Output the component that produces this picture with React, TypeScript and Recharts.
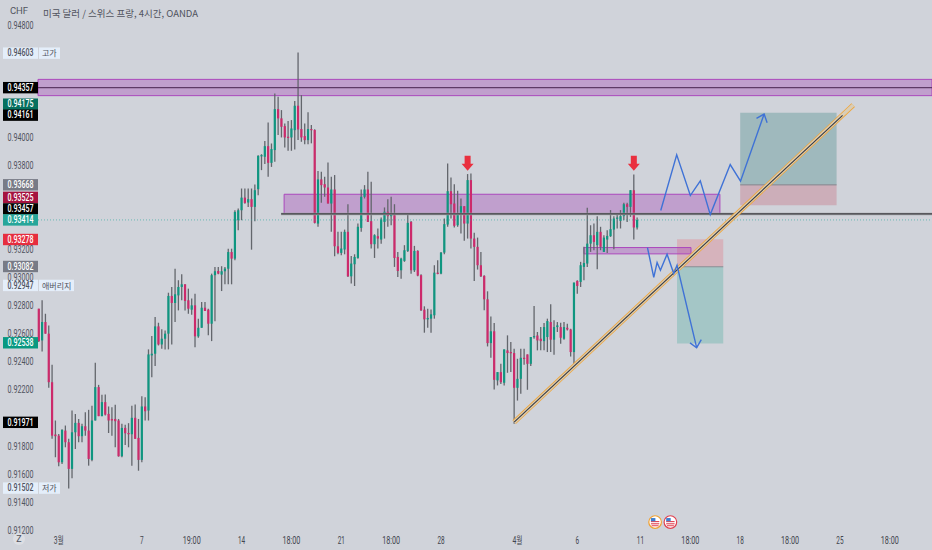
import { ComposedChart, Bar, Line, Scatter, XAxis, YAxis, ReferenceArea, ReferenceLine } from 'recharts';

// open, high, low, close of each 4h bar
type Row = [number, number, number, number];

const barsMarchA: Row[] = [
  [0.92781, 0.92781, 0.92543, 0.9255], [0.92555, 0.92841, 0.92476, 0.92686], [0.92686, 0.92745, 0.92603, 0.92603],
  [0.92603, 0.92662, 0.92217, 0.92257], [0.92257, 0.92381, 0.91853, 0.91876], [0.91884, 0.91984, 0.91722, 0.91872],
  [0.91876, 0.91888, 0.91657, 0.91686], [0.91686, 0.91922, 0.91674, 0.91917], [0.91912, 0.91948, 0.91793, 0.91829],
  [0.91829, 0.91853, 0.915, 0.91639], [0.91639, 0.92055, 0.91572, 0.919], [0.919, 0.92031, 0.91781, 0.91967],
  [0.91967, 0.91995, 0.91829, 0.91872], [0.91872, 0.9196, 0.91829, 0.91943], [0.91943, 0.92043, 0.91876, 0.91912],
  [0.91912, 0.9206, 0.91662, 0.9171], [0.91703, 0.9209, 0.91693, 0.91984], [0.91984, 0.92395, 0.91984, 0.92222],
  [0.92222, 0.92238, 0.92015, 0.92015], [0.92015, 0.92167, 0.92015, 0.92115], [0.92115, 0.9217, 0.9202, 0.92026],
  [0.92031, 0.92084, 0.91895, 0.91984], [0.91995, 0.92079, 0.91876, 0.91984], [0.91995, 0.92096, 0.91793, 0.91979],
  [0.91984, 0.91995, 0.91726, 0.91729], [0.91729, 0.9196, 0.91722, 0.91931], [0.91931, 0.91953, 0.9181, 0.91893],
  [0.91895, 0.91965, 0.91793, 0.91886], [0.91886, 0.9209, 0.91662, 0.92003], [0.92003, 0.92098, 0.91853, 0.91853],
  [0.9186, 0.91995, 0.91626, 0.91703],
];

const barsMarchB: Row[] = [
  [0.91703, 0.92157, 0.91686, 0.92084], [0.92084, 0.9215, 0.91984, 0.9205], [0.92055, 0.92491, 0.91984, 0.92455],
  [0.92448, 0.92586, 0.92293, 0.9246], [0.9246, 0.92722, 0.92372, 0.92655], [0.92655, 0.92681, 0.92519, 0.92526],
  [0.92526, 0.92634, 0.92495, 0.92567], [0.92567, 0.92626, 0.92491, 0.92603], [0.92603, 0.92895, 0.92491, 0.92872],
  [0.92872, 0.92936, 0.92526, 0.92822], [0.92822, 0.93066, 0.92686, 0.92884], [0.92876, 0.92984, 0.92769, 0.92936],
  [0.92936, 0.93026, 0.92841, 0.92955], [0.92955, 0.92955, 0.92769, 0.92836], [0.92841, 0.92924, 0.92745, 0.92781],
  [0.92774, 0.92853, 0.92738, 0.92805], [0.92805, 0.92888, 0.92507, 0.92584], [0.92584, 0.9271, 0.92574, 0.92645],
  [0.92645, 0.92829, 0.92645, 0.92788], [0.92788, 0.92829, 0.92765, 0.92765], [0.92774, 0.92781, 0.92591, 0.92674],
  [0.92674, 0.93031, 0.9255, 0.9302], [0.9302, 0.93079, 0.92691, 0.93048], [0.93050, 0.93079, 0.93026, 0.93031],
  [0.93024, 0.93084, 0.92907, 0.93048], [0.93048, 0.93079, 0.92955, 0.93067], [0.93066, 0.93209, 0.92955, 0.93185],
  [0.93185, 0.93209, 0.92955, 0.93138], [0.93138, 0.93483, 0.93126, 0.93471], [0.93412, 0.93495, 0.9334, 0.93483],
];

const barsMarchC: Row[] = [
  [0.93483, 0.93638, 0.93412, 0.93573], [0.93573, 0.93638, 0.9353, 0.93535], [0.93538, 0.93638, 0.93507, 0.93562],
  [0.93562, 0.93638, 0.93202, 0.93507], [0.93507, 0.93666, 0.93404, 0.93626], [0.93633, 0.93876, 0.9359, 0.93871],
  [0.93869, 0.93883, 0.93769, 0.93876], [0.93864, 0.93976, 0.93812, 0.9394], [0.9394, 0.94109, 0.93721, 0.93821],
  [0.93821, 0.93959, 0.93792, 0.93919], [0.93912, 0.94316, 0.93828, 0.94204], [0.94204, 0.94293, 0.94019, 0.94138],
  [0.94138, 0.94197, 0.94002, 0.94078], [0.94083, 0.94102, 0.9393, 0.94002], [0.94007, 0.94119, 0.93907, 0.94],
  [0.94002, 0.94126, 0.93907, 0.94066], [0.94054, 0.94262, 0.93916, 0.94228], [0.94228, 0.94607, 0.93983, 0.94059],
  [0.94062, 0.94304, 0.93971, 0.94002], [0.94012, 0.94102, 0.93954, 0.93983], [0.93983, 0.94181, 0.93954, 0.94062],
  [0.94062, 0.94091, 0.9396, 0.94055], [0.94055, 0.9406, 0.93388, 0.93393], [0.93388, 0.93762, 0.93365, 0.93703],
  [0.93703, 0.93757, 0.93536, 0.93662], [0.93669, 0.93722, 0.93579, 0.93645], [0.93645, 0.93824, 0.93531, 0.93531],
  [0.93531, 0.93722, 0.93329, 0.93631], [0.93631, 0.93734, 0.93155, 0.93226], [0.93226, 0.93329, 0.93169, 0.93179],
];

const barsMarchD: Row[] = [
  [0.93179, 0.93329, 0.93162, 0.9321], [0.93203, 0.93345, 0.93169, 0.93329], [0.93329, 0.93526, 0.93007, 0.93012],
  [0.93012, 0.93157, 0.9296, 0.93103], [0.93098, 0.93169, 0.92943, 0.9315], [0.93143, 0.93388, 0.93138, 0.93365],
  [0.93357, 0.93631, 0.93329, 0.93579], [0.93579, 0.93662, 0.93567, 0.93631], [0.93631, 0.93757, 0.934, 0.934],
  [0.93405, 0.93686, 0.9321, 0.93241], [0.93241, 0.93312, 0.93143, 0.93305], [0.93298, 0.93353, 0.9321, 0.93281],
  [0.93274, 0.93431, 0.93245, 0.93417], [0.934, 0.93503, 0.93281, 0.93472], [0.93472, 0.93562, 0.93365, 0.93441],
  [0.93441, 0.93579, 0.93376, 0.93460], [0.93448, 0.93526, 0.93079, 0.93143], [0.9315, 0.93186, 0.93007, 0.9305],
  [0.93055, 0.93145, 0.92995, 0.93138], [0.93122, 0.93234, 0.93115, 0.93198], [0.93193, 0.9346, 0.93186, 0.93393],
  [0.934, 0.93407, 0.93031, 0.93055], [0.93055, 0.93229, 0.93043, 0.93193], [0.93193, 0.93198, 0.93012, 0.93017],
  [0.9302, 0.93026, 0.92765, 0.9277], [0.92774, 0.92798, 0.9261, 0.92705], [0.92705, 0.92781, 0.92645, 0.92715],
  [0.9271, 0.92776, 0.9261, 0.92741], [0.92734, 0.93091, 0.9271, 0.93038], [0.93038, 0.93126, 0.93026, 0.93029],
];

const barsApril: Row[] = [
  [0.93031, 0.93186, 0.93026, 0.93181], [0.93181, 0.93424, 0.93169, 0.93384], [0.93381, 0.93817, 0.93365, 0.93619],
  [0.93619, 0.93717, 0.93424, 0.93526], [0.93531, 0.93669, 0.9336, 0.93372], [0.93376, 0.93622, 0.93365, 0.9346],
  [0.9346, 0.93567, 0.93317, 0.93512], [0.93512, 0.93512, 0.93265, 0.93388], [0.93388, 0.93741, 0.93281, 0.93698],
  [0.93698, 0.93745, 0.9321, 0.93281], [0.93281, 0.93322, 0.92979, 0.93222], [0.93222, 0.93288, 0.9306, 0.93091],
  [0.93091, 0.93186, 0.93007, 0.93012], [0.93015, 0.9302, 0.9277, 0.92848], [0.92848, 0.92905, 0.92512, 0.92536],
  [0.92536, 0.92726, 0.92431, 0.9262], [0.9262, 0.92679, 0.92205, 0.92274], [0.9227, 0.92329, 0.92234, 0.92329],
  [0.92329, 0.92388, 0.92245, 0.92257], [0.92253, 0.92491, 0.92234, 0.92491], [0.92484, 0.92591, 0.92324, 0.92465],
  [0.92472, 0.92543, 0.92329, 0.92465], [0.92465, 0.92495, 0.9196, 0.92217], [0.92217, 0.92424, 0.92126, 0.92281],
  [0.92281, 0.92495, 0.92174, 0.92431], [0.92431, 0.92495, 0.92381, 0.92424], [0.92455, 0.92455, 0.92203, 0.92388],
  [0.92388, 0.92579, 0.92372, 0.92579], [0.92579, 0.928, 0.92567, 0.92586], [0.9259, 0.92615, 0.92484, 0.92555],
  [0.92567, 0.9265, 0.92484, 0.9255],
];

const barsLast: Row[] = [
  [0.9255, 0.92679, 0.92484, 0.9265], [0.92579, 0.9271, 0.92472, 0.92693], [0.92686, 0.92812, 0.92472, 0.9256],
  [0.9256, 0.92698, 0.92453, 0.9265], [0.92650, 0.92686, 0.92615, 0.92662], [0.9265, 0.92681, 0.92531, 0.92574],
  [0.92567, 0.92686, 0.9256, 0.9265], [0.92645, 0.92674, 0.92626, 0.92633], [0.92633, 0.92638, 0.9244, 0.92472],
  [0.92472, 0.92967, 0.92376, 0.92967], [0.92979, 0.92984, 0.92888, 0.92943], [0.92972, 0.93115, 0.92936, 0.93091],
  [0.93079, 0.93222, 0.92984, 0.93107], [0.93103, 0.935, 0.93079, 0.93245], [0.93245, 0.93376, 0.93186, 0.93305],
  [0.93305, 0.93388, 0.93198, 0.93257], [0.93234, 0.93441, 0.93062, 0.93329], [0.93329, 0.93365, 0.93198, 0.93222],
  [0.93186, 0.93305, 0.93186, 0.93288], [0.93274, 0.93341, 0.93179, 0.933], [0.93298, 0.93484, 0.93293, 0.93348],
  [0.93345, 0.93441, 0.93205, 0.93424], [0.93424, 0.9346, 0.93353, 0.93431], [0.93407, 0.93484, 0.93353, 0.93441],
  [0.93441, 0.93536, 0.93412, 0.93526], [0.93526, 0.93536, 0.934, 0.93507], [0.93507, 0.93626, 0.93436, 0.93626],
  [0.93626, 0.93738, 0.93274, 0.9336], [0.9336, 0.93431, 0.93345, 0.93414],
];

const rows: Row[] = [...barsMarchA, ...barsMarchB, ...barsMarchC, ...barsMarchD, ...barsApril, ...barsLast];
const candles = rows.map(([open, high, low, close], i) => ({ i, open, high, low, close }));

// 0.934, 0.936, 0.942 and 0.946 sit fully behind price tags in the reference
const priceTicks = [0.912, 0.914, 0.916, 0.918, 0.92, 0.922, 0.924, 0.926, 0.928, 0.93, 0.932, 0.938, 0.94, 0.944, 0.948];
// these two only peek out above a tag
const peekingTicks = [0.92, 0.944];
const timeTicks = [6, 31, 46, 61, 76, 91, 106, 121, 144, 162, 181, 196, 211, 226, 241, 256];
const timeLabels = ['3월', '7', '19:00', '14', '18:00', '21', '18:00', '28', '4월', '6', '11', '18:00', '18', '18:00', '25', '18:00'];

const X_MIN = -0.24;
const X_MAX = 268.7;
const Y_MIN = 0.91189;
const Y_MAX = 0.94982;

// price tags on the left scale, dy = how far the tag got pushed to avoid its neighbour
const priceTags = [
  { i: X_MIN, v: 0.94603, label: '0.94603', fill: '#e4eefa', color: '#50535e', note: '고가', dy: 0 },
  { i: X_MIN, v: 0.94357, label: '0.94357', fill: '#000000', color: '#ffffff', note: '', dy: 0 },
  { i: X_MIN, v: 0.94175, label: '0.94175', fill: '#06705f', color: '#ffffff', note: '', dy: -9 },
  { i: X_MIN, v: 0.94161, label: '0.94161', fill: '#000000', color: '#ffffff', note: '', dy: 0 },
  { i: X_MIN, v: 0.93668, label: '0.93668', fill: '#787b86', color: '#ffffff', note: '', dy: 0.5 },
  { i: X_MIN, v: 0.93525, label: '0.93525', fill: '#a5133f', color: '#ffffff', note: '', dy: -7 },
  { i: X_MIN, v: 0.93457, label: '0.93457', fill: '#000000', color: '#ffffff', note: '', dy: -5 },
  { i: X_MIN, v: 0.93414, label: '0.93414', fill: '#26a69a', color: '#ffffff', note: '', dy: 0 },
  { i: X_MIN, v: 0.93278, label: '0.93278', fill: '#e62e3f', color: '#ffffff', note: '', dy: 0.5 },
  { i: X_MIN, v: 0.93082, label: '0.93082', fill: '#787b86', color: '#ffffff', note: '', dy: 0 },
  { i: X_MIN, v: 0.92947, label: '0.92947', fill: '#e4eefa', color: '#50535e', note: '애버리지', dy: 0 },
  { i: X_MIN, v: 0.92538, label: '0.92538', fill: '#089981', color: '#ffffff', note: '', dy: 0 },
  { i: X_MIN, v: 0.91971, label: '0.91971', fill: '#000000', color: '#ffffff', note: '', dy: 0 },
  { i: X_MIN, v: 0.91502, label: '0.91502', fill: '#e4eefa', color: '#50535e', note: '저가', dy: 0 },
];

const upPath = [
  { i: 187.1, v: 0.93481 }, { i: 191.9, v: 0.93878 }, { i: 196, v: 0.93588 }, { i: 199, v: 0.93693 },
  { i: 202, v: 0.93452 }, { i: 208, v: 0.93809 }, { i: 211.1, v: 0.9369 }, { i: 218.2, v: 0.94169 },
];
const upHead = [{ i: 215.9, v: 0.94138 }, { i: 218.2, v: 0.94169 }, { i: 219.1, v: 0.94107 }];
const downPath = [
  { i: 183.1, v: 0.93217 }, { i: 185, v: 0.93005 }, { i: 186, v: 0.9311 }, { i: 187, v: 0.93055 },
  { i: 189, v: 0.9317 }, { i: 191, v: 0.93032 }, { i: 192, v: 0.93091 }, { i: 197.9, v: 0.92503 },
];
const downHead = [{ i: 195.9, v: 0.92537 }, { i: 197.9, v: 0.92503 }, { i: 199.3, v: 0.9256 }];

const trendStart = { x: 143, y: 0.91972 };
const trendBandEnd = { x: 245, y: 0.94233 };
const trendLineEnd = { x: 241.8, y: 0.9416 };

const signalArrows = [{ i: 129, v: 0.93765 }, { i: 179, v: 0.93765 }];
const eventFlags = [{ i: 185.4, v: 0.9126, ring: '#f0a030' }, { i: 190, v: 0.9126, ring: '#e0404f' }];

const GREEN = '#0f9680';
const RED = '#cc2a6b';
const WICK = '#63666c';
const BLUE = '#3f72d6';
const AXIS_CENTER = 20.5;

function Candle(props: any) {
  const { x, y, width, height, payload } = props;
  const { open, high, low, close } = payload;
  const k = height / (high - low || 1);
  const top = y + (high - Math.max(open, close)) * k;
  const bottom = y + (high - Math.min(open, close)) * k;
  const mid = x + width / 2;
  return (
    <g>
      <line x1={mid} x2={mid} y1={y} y2={y + height} stroke={WICK} strokeWidth={1.3} />
      <rect x={mid - 1.1} y={top} width={2.2} height={Math.max(bottom - top, 1.2)} fill={close >= open ? GREEN : RED} />
    </g>
  );
}

function PriceTick(props: any) {
  const { y, payload } = props;
  const peek = peekingTicks.includes(payload.value);
  return (
    <g>
      {peek && (
        <clipPath id={`peek-${payload.value}`}>
          <rect x={0} y={y - 8} width={38} height={3} />
        </clipPath>
      )}
      <text
        x={AXIS_CENTER}
        y={y + 3.3}
        fontSize={10}
        fill="#50535e"
        textAnchor="middle"
        textLength={26}
        lengthAdjust="spacingAndGlyphs"
        fontFamily="Roboto"
        clipPath={peek ? `url(#peek-${payload.value})` : undefined}
      >
        {payload.value.toFixed(5)}
      </text>
    </g>
  );
}

function TimeTick(props: any) {
  const { x, y, payload, index } = props;
  const label = timeLabels[index] ?? String(payload.value);
  const hasHangul = label.endsWith('월');
  const length = hasHangul ? 10 : label.length * 3.6;
  return (
    <text
      x={x}
      y={y + 4}
      fontSize={10}
      fill="#42454e"
      textAnchor="middle"
      textLength={length}
      lengthAdjust="spacingAndGlyphs"
      fontFamily="Roboto, 'Noto Sans CJK KR'"
    >
      {label}
    </text>
  );
}

function TagShape(props: any) {
  const { cy, payload } = props;
  const y = cy + payload.dy;
  const noteWidth = payload.note.length * 7 + 7;
  return (
    <g>
      <rect x={3} y={y - 5.7} width={35} height={11.4} fill={payload.fill} />
      <text x={AXIS_CENTER} y={y + 3.3} fontSize={10} fontWeight={500} fill={payload.color} textAnchor="middle" textLength={26} lengthAdjust="spacingAndGlyphs" fontFamily="Roboto">
        {payload.label}
      </text>
      {payload.note && (
        <g>
          <rect x={39} y={y - 5.7} width={noteWidth} height={11.4} fill={payload.fill} />
          <text x={42} y={y + 3.3} fontSize={8} fill={payload.color} fontFamily="'Noto Sans CJK KR'">
            {payload.note}
          </text>
        </g>
      )}
    </g>
  );
}

function SignalArrow(props: any) {
  const { cx, cy } = props;
  const d = `M${cx - 3} ${cy - 15} h6 v8 h3 l-6 7 l-6 -7 h3 z`;
  return <path d={d} fill="#e9303f" />;
}

function EventFlag(props: any) {
  const { cx, cy, payload } = props;
  return (
    <g>
      <circle cx={cx} cy={cy} r={6.3} fill="#ffffff" stroke={payload.ring} strokeWidth={1.2} />
      <rect x={cx - 4.2} y={cy - 1} width={8.4} height={1.1} fill="#e0404f" />
      <rect x={cx - 4.2} y={cy + 1.2} width={8.4} height={1.1} fill="#e0404f" />
      <rect x={cx - 3.5} y={cy + 3.2} width={7} height={1} fill="#e0404f" />
      <rect x={cx - 4.2} y={cy - 4} width={4.5} height={3.2} fill="#3f7fd0" />
    </g>
  );
}

export default function App() {
  return (
    <div style={{ position: 'absolute', left: 0, top: 0, width: 932, height: 550, background: '#d0d3da', overflow: 'hidden' }}>
      <ComposedChart width={932} height={550} data={candles} margin={{ top: 0, right: 0, bottom: 0, left: 0 }}>
        <XAxis
          dataKey="i"
          type="number"
          domain={[X_MIN, X_MAX]}
          ticks={timeTicks}
          tick={<TimeTick />}
          height={18}
          axisLine={false}
          tickLine={false}
          interval={0}
        />
        <YAxis
          type="number"
          domain={[Y_MIN, Y_MAX]}
          ticks={priceTicks}
          tick={<PriceTick />}
          width={38}
          axisLine={false}
          tickLine={false}
          tickMargin={0}
          interval={0}
        />

        <Bar dataKey={(d: any) => [d.low, d.high]} barSize={3} shape={<Candle />} isAnimationActive={false} />

        {/* position boxes */}
        <ReferenceArea x1={192} x2={205.9} y1={0.93276} y2={0.9308} fill="#f23645" fillOpacity={0.2} stroke="none" />
        <ReferenceArea x1={192} x2={205.9} y1={0.9308} y2={0.92533} fill="#089981" fillOpacity={0.22} stroke="none" />
        <ReferenceLine segment={[{ x: 192, y: 0.9308 }, { x: 205.9, y: 0.9308 }]} stroke="#8a8d94" strokeWidth={1} />
        <ReferenceArea x1={211} x2={240} y1={0.94178} y2={0.93664} fill="#2f7f7a" fillOpacity={0.3} stroke="none" />
        <ReferenceArea x1={211} x2={240} y1={0.93664} y2={0.93519} fill="#c23a50" fillOpacity={0.24} stroke="none" />
        <ReferenceLine segment={[{ x: 211, y: 0.93664 }, { x: 240, y: 0.93664 }]} stroke="#83868d" strokeWidth={1} />

        {/* resistance zones */}
        <ReferenceArea x1={X_MIN} x2={X_MAX} y1={0.94416} y2={0.943} fill="#9c27b0" fillOpacity={0.3} stroke="#ab47bc" strokeWidth={1} />
        <ReferenceArea x1={73.8} x2={204.9} y1={0.93597} y2={0.93459} fill="#9c27b0" fillOpacity={0.3} stroke="#ab47bc" strokeWidth={1} />
        <ReferenceArea x1={164} x2={196.2} y1={0.93217} y2={0.93172} fill="#9c27b0" fillOpacity={0.3} stroke="#ab47bc" strokeWidth={1} />

        {/* horizontal levels */}
        <ReferenceLine y={0.94357} stroke="#5d3a66" strokeWidth={1.2} />
        <ReferenceLine segment={[{ x: 72.9, y: 0.93457 }, { x: X_MAX, y: 0.93457 }]} stroke="#a0a2a7" strokeWidth={2.5} />
        <ReferenceLine segment={[{ x: 72.9, y: 0.93457 }, { x: X_MAX, y: 0.93457 }]} stroke="#2a2a2e" strokeWidth={1} />
        <ReferenceLine y={0.93414} stroke="#26a69a" strokeOpacity={0.6} strokeDasharray="1 2" strokeWidth={1} />

        {/* trend line */}
        <ReferenceLine segment={[trendStart, trendBandEnd]} stroke="#f0a63a" strokeWidth={5} />
        <ReferenceLine segment={[trendStart, trendBandEnd]} stroke="#d8cdb8" strokeWidth={3.4} />
        <ReferenceLine segment={[trendStart, trendLineEnd]} stroke="#3c3a3a" strokeWidth={1.1} />

        {/* expected moves */}
        <Line data={upPath} dataKey="v" stroke={BLUE} strokeWidth={1.4} dot={false} type="linear" isAnimationActive={false} />
        <Line data={upHead} dataKey="v" stroke={BLUE} strokeWidth={1.4} dot={false} type="linear" isAnimationActive={false} />
        <Line data={downPath} dataKey="v" stroke={BLUE} strokeWidth={1.4} dot={false} type="linear" isAnimationActive={false} />
        <Line data={downHead} dataKey="v" stroke={BLUE} strokeWidth={1.4} dot={false} type="linear" isAnimationActive={false} />

        <Scatter data={signalArrows} dataKey="v" shape={<SignalArrow />} isAnimationActive={false} />
        <Scatter data={eventFlags} dataKey="v" shape={<EventFlag />} isAnimationActive={false} />
        <Scatter data={priceTags} dataKey="v" shape={<TagShape />} isAnimationActive={false} />
      </ComposedChart>

      <div style={{ position: 'absolute', left: 0, top: 5, width: 38, textAlign: 'center', font: '9.5px Roboto', color: '#50535e' }}>CHF</div>
      <div style={{ position: 'absolute', left: 43, top: 6, font: "9.5px 'Noto Sans CJK KR'", color: '#50535e', whiteSpace: 'nowrap' }}>
        미국 달러 / 스위스 프랑, 4시간, OANDA
      </div>
      <div style={{ position: 'absolute', left: 13, top: 533, width: 12, height: 12, borderRadius: 6, background: '#dcdee3', textAlign: 'center', font: '9px/12px Roboto', color: '#50535e' }}>Z</div>
    </div>
  );
}
